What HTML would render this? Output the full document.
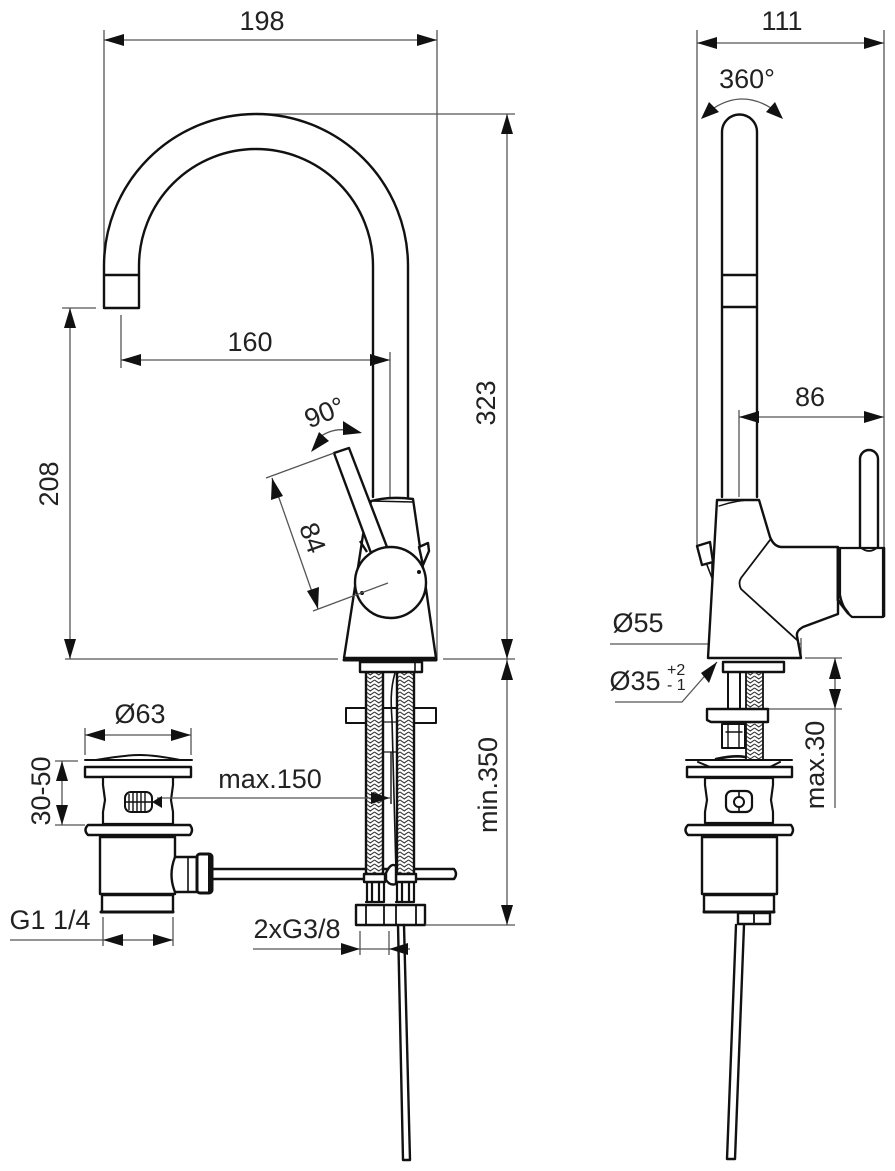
<!DOCTYPE html>
<html><head><meta charset="utf-8"><style>
html,body{margin:0;padding:0;background:#fff}
svg{display:block}
text{font-family:"Liberation Sans",sans-serif;font-size:27px;fill:#222}
.d{stroke:#555;stroke-width:1.3;fill:none}
.k{stroke:#111;stroke-width:2.4;fill:none;stroke-linejoin:round;stroke-linecap:round}
.w{stroke:#111;stroke-width:2.4;fill:#fff;stroke-linejoin:round}
.t{stroke:#111;stroke-width:1.4;fill:none}
.a{fill:#111;stroke:none}
</style></head><body>
<svg width="895" height="1171" viewBox="0 0 895 1171" xmlns="http://www.w3.org/2000/svg">
<defs>
<pattern id="h" width="8.5" height="4" patternUnits="userSpaceOnUse" patternTransform="translate(366 672)">
<path d="M0 0L4.25 3L8.5 0M0 4L4.25 7L8.5 4M0 -4L4.25 -1L8.5 -4" stroke="#333" stroke-width="1.1" fill="none"/>
</pattern>
<pattern id="h2" width="8.5" height="4" patternUnits="userSpaceOnUse" patternTransform="translate(746 672)">
<path d="M0 0L4.25 3L8.5 0M0 4L4.25 7L8.5 4M0 -4L4.25 -1L8.5 -4" stroke="#333" stroke-width="1.1" fill="none"/>
</pattern>
</defs>
<rect width="895" height="1171" fill="#fff"/>

<!-- LEFT VIEW dims -->
<path class="d" d="M104 30V262M437 30V660M104 40H437M256 114H515M507 114V660M62 308H96M70 308V659M65 659H338M443 659H515M121 315V368M121 360H390M390 352V497"/>
<polygon class="a" points="104,40 124,34 124,46"/><polygon class="a" points="437,40 417,34 417,46"/>
<polygon class="a" points="507,114 501,134 513,134"/><polygon class="a" points="507,659 501,639 513,639"/>
<polygon class="a" points="70,308 64,328 76,328"/><polygon class="a" points="70,659 64,639 76,639"/>
<polygon class="a" points="121,360 141,354 141,366"/><polygon class="a" points="390,360 370,354 370,366"/>
<text x="262" y="30" text-anchor="middle">198</text>
<text x="250" y="351" text-anchor="middle">160</text>
<text transform="translate(495,403) rotate(-90)" text-anchor="middle">323</text>
<text transform="translate(58,484) rotate(-90)" text-anchor="middle">208</text>

<!-- Spout -->
<path class="k" d="M104 308V266A152 152 0 0 1 408 266V497M139 308V266A117 117 0 0 1 373 266V497M104 275H139M104 308H139"/>

<!-- lower supply hoses etc -->
<path class="w" d="M346 708H436V723H346Z" style="stroke-width:2"/>
<rect x="383" y="722" width="14" height="30" fill="#fff" stroke="#111" stroke-width="1.2"/>
<path class="k" d="M395 673C390 690 391 705 392 720L396 872" style="stroke-width:1.6"/>
<path class="t" d="M391 752V804"/>

<!-- drain rod & connections -->
<path class="k" d="M213 869H454Q458 874 454 879H213" style="fill:#fff"/>
<rect x="366" y="672" width="17" height="202" fill="#fff"/>
<rect x="397" y="672" width="17" height="202" fill="#fff"/>
<rect x="366" y="672" width="17" height="202" fill="url(#h)"/>
<rect x="397" y="672" width="17" height="202" fill="url(#h)"/>
<path class="k" d="M366 672V874M383 672V874M397 672V874M414 672V874"/>
<path class="w" d="M364 874H385V882H364ZM396 874H416V882H396Z"/>
<path class="w" d="M386 873Q391 862 396 866V884Q390 886 386 880Z"/>
<path class="k" d="M367 883V902M372 883V902M379 883V902M384 883V902M397 883V902M402 883V902M409 883V902M414 883V902M366 902H384M396 902H414" style="stroke-width:2.2"/>
<path class="w" d="M356 905H425V925H356Z"/>
<path class="k" d="M366 905V925M384 905V925M396 905V925M416 905V925" style="stroke-width:1.8"/>
<path class="k" d="M398 925L403 1160M404 925L410 1160M403 1160H410"/>

<!-- Body -->
<path class="w" d="M371 501Q390 496 413 499L436 658H344L363 535Z"/>
<path class="k" d="M371 501L413 502" style="stroke-width:1.4"/>
<path class="w" d="M419 547L428 543L429 551L423 565Z"/>
<path class="w" d="M334 453L349 448L387 547L371 553Z"/>
<path class="w" d="M360 541L367 552"/>
<circle cx="390.5" cy="582.5" r="35.5" class="w"/>
<circle cx="419" cy="572" r="2" class="a"/><circle cx="362" cy="593" r="2" class="a"/>
<path class="k" d="M344 660H436" style="stroke-width:3"/>
<path class="w" d="M360 662H422V672H360Z"/>
<path class="k" d="M415 663V672" style="stroke-width:1.6"/>

<!-- 84 / 90 -->
<path class="d" d="M266 478L334 453M272 478L318 609M313 611L388 583"/>
<polygon class="a" points="272,478 271,500 283,496"/><polygon class="a" points="318,609 319,587 307,591"/>
<text transform="translate(304,541) rotate(70)" text-anchor="middle">84</text>
<path class="d" d="M316 440Q332 426 352 431"/>
<polygon class="a" points="311,452 319,432 329,441"/><polygon class="a" points="362,433 343,421 343,435"/>
<text transform="translate(328,421) rotate(-22)" text-anchor="middle">90°</text>

<!-- Left drain -->
<path class="k" d="M85 760H192M96 760Q125 755 140 755T180 760" style="stroke-width:2"/>
<path class="w" d="M85 767H191V777H85Z"/>
<path class="w" d="M103 777H173V785L171 800L173 812V824H103V812L105 800L103 785Z" style="stroke-width:2.2"/>
<rect x="125" y="792" width="27" height="20" rx="6" fill="#fff" stroke="#111" stroke-width="2"/>
<path class="t" d="M129 794V810M133 793V811M137 793V811M141 793V811M145 793V811M126 802H152"/>
<path class="w" d="M88 825H190Q194 830 190 835H88Q83 830 88 825Z"/>
<path class="w" d="M100 837H175V894H100Z"/>
<path class="w" d="M102 895H173V912H102Z"/>
<path class="k" d="M101 912H173" style="stroke-width:3"/>
<path class="w" d="M175 857H197V892H175Q168 875 175 857Z"/>
<path class="k" d="M188 858V891" style="stroke-width:1.6"/>
<rect x="197" y="854" width="15" height="39" rx="3" fill="#fff" stroke="#111" stroke-width="3"/>
<rect x="208" y="855" width="5" height="37" fill="#111"/>

<path class="d" d="M85 728V755M191 728V755M85 735H191M55 761H78M55 825H85M62 761V825M157 798H390M10 940H173M103 917V946M173 917V946"/>
<polygon class="a" points="85,735 105,729 105,741"/><polygon class="a" points="191,735 171,729 171,741"/>
<polygon class="a" points="62,761 56,781 68,781"/><polygon class="a" points="62,825 56,805 68,805"/>
<polygon class="a" points="103,940 123,934 123,946"/><polygon class="a" points="173,940 153,934 153,946"/>
<polygon class="a" points="152,802 162,796 162,808"/>
<polygon class="a" points="390,798 371,792 371,804"/>
<path class="d" d="M360 931V955M389 931V955M253 949H410M425 925H515M507 660V925"/>
<polygon class="a" points="360,949 341,943 341,955"/><polygon class="a" points="389,949 408,943 408,955"/>
<polygon class="a" points="507,660 501,680 513,680"/><polygon class="a" points="507,925 501,905 513,905"/>
<text x="140" y="723" text-anchor="middle">Ø63</text>
<text transform="translate(50,791) rotate(-90)" text-anchor="middle">30-50</text>
<text x="270" y="788" text-anchor="middle">max.150</text>
<text x="50" y="929" text-anchor="middle">G1 1/4</text>
<text x="297" y="938" text-anchor="middle">2xG3/8</text>
<text transform="translate(497,785) rotate(-90)" text-anchor="middle">min.350</text>

<!-- RIGHT VIEW -->
<path class="d" d="M697 30V545M884 30V550M697 43H884M739 410V497M739 417H884M610 644H801M801 638V658M615 702H682L717 662M805 658H842M768 709H842M835 658V808"/>
<polygon class="a" points="697,43 717,37 717,49"/><polygon class="a" points="884,43 864,37 864,49"/>
<polygon class="a" points="739,417 759,411 759,423"/><polygon class="a" points="884,417 864,411 864,423"/>
<polygon class="a" points="709,644 728,638 728,650"/><polygon class="a" points="800,644 781,638 781,650"/>
<polygon class="a" points="717,662 701,673 709,683"/>
<polygon class="a" points="835,658 829,679 841,679"/><polygon class="a" points="835,709 829,689 841,689"/>
<path class="d" d="M714 108Q742 90 771 108"/>
<polygon class="a" points="701,119 709,102 719,112"/><polygon class="a" points="783,119 766,112 775,102"/>
<text x="782" y="30" text-anchor="middle">111</text>
<text x="747" y="88" text-anchor="middle">360°</text>
<text x="810" y="406" text-anchor="middle">86</text>
<text x="638" y="632" text-anchor="middle">Ø55</text>
<text x="635" y="690" text-anchor="middle">Ø35</text>
<text x="667" y="675" style="font-size:16px">+2</text>
<text x="667" y="690" style="font-size:16px">- 1</text>
<text transform="translate(824,765) rotate(-90)" text-anchor="middle">max.30</text>

<path class="k" d="M722 497V132A17.5 17.5 0 0 1 757 132V497M722 275H757M722 307H757"/>
<path class="k" d="M860 548V459A9 9 0 0 1 878 459V548" />
<path class="w" d="M717 500H759L770 537Q774 547 782 547H838V614L803 627Q796 631 797 636L801 658H708Z"/>
<path class="k" d="M719 506Q740 499 757 500" style="stroke-width:1.4"/>
<path class="k" d="M770 540L741 578Q738 583 741 589L797 640" style="stroke-width:1.8"/>
<path class="w" d="M840 548H883V617H852Q843 610 840 595Z" style="stroke-width:2.2"/>
<path class="k" d="M884 548V616" style="stroke-width:2.6"/>
<path class="k" d="M838 548V600L848 613" style="stroke-width:3"/>
<path class="k" d="M860 547Q869 555 878 547" style="stroke-width:1.6"/>
<path class="w" d="M697 546L710 542L713 562L702 565Z"/>
<path class="k" d="M707 565L712 578M712 562V578" style="stroke-width:1.6"/>
<path class="w" d="M723 662H784V672H723Z"/>
<path class="k" d="M728 672V709M740 672V709" style="stroke-width:2"/>
<rect x="746" y="672" width="17" height="87" fill="url(#h2)"/>
<path class="k" d="M746 672V759M763 672V759" style="stroke-width:1.8"/>
<path class="w" d="M707 709H768V722H711L707 720Z"/>
<path class="w" d="M722 724H745V748H722Z" style="stroke-width:2"/>
<path class="k" d="M728 724V748M739 724V748M726 732H742" style="stroke-width:1.4"/>
<path class="k" d="M686 760H792M698 762L710 767M780 762L770 767" style="stroke-width:2"/>
<path class="k" d="M716 759Q735 755 745 757" style="stroke-width:2.6"/>
<path class="w" d="M687 767H792V777H687Z"/>
<path class="w" d="M705 778H773V785L771 800L773 812V823H705V812L707 800L705 785Z" style="stroke-width:2.2"/>
<rect x="726" y="791" width="26" height="21" rx="6" fill="#fff" stroke="#111" stroke-width="2.2"/>
<circle cx="739" cy="802" r="5" fill="#fff" stroke="#111" stroke-width="2"/>
<path class="k" d="M739 791V797M739 807V812" style="stroke-width:1.6"/>
<path class="w" d="M688 825H791Q795 830 791 835H688Q683 830 688 825Z"/>
<path class="w" d="M702 837H777V894H702Z"/>
<path class="w" d="M704 895H774V912H704Z"/>
<path class="k" d="M704 912H774" style="stroke-width:3"/>
<path class="w" d="M738 913H770V924H738Z"/>
<path class="k" d="M754 913V924" style="stroke-width:1.8"/>
<path class="k" d="M736 925L727 1159M744 925L735 1159M727 1159H735"/>
</svg>
</body></html>
